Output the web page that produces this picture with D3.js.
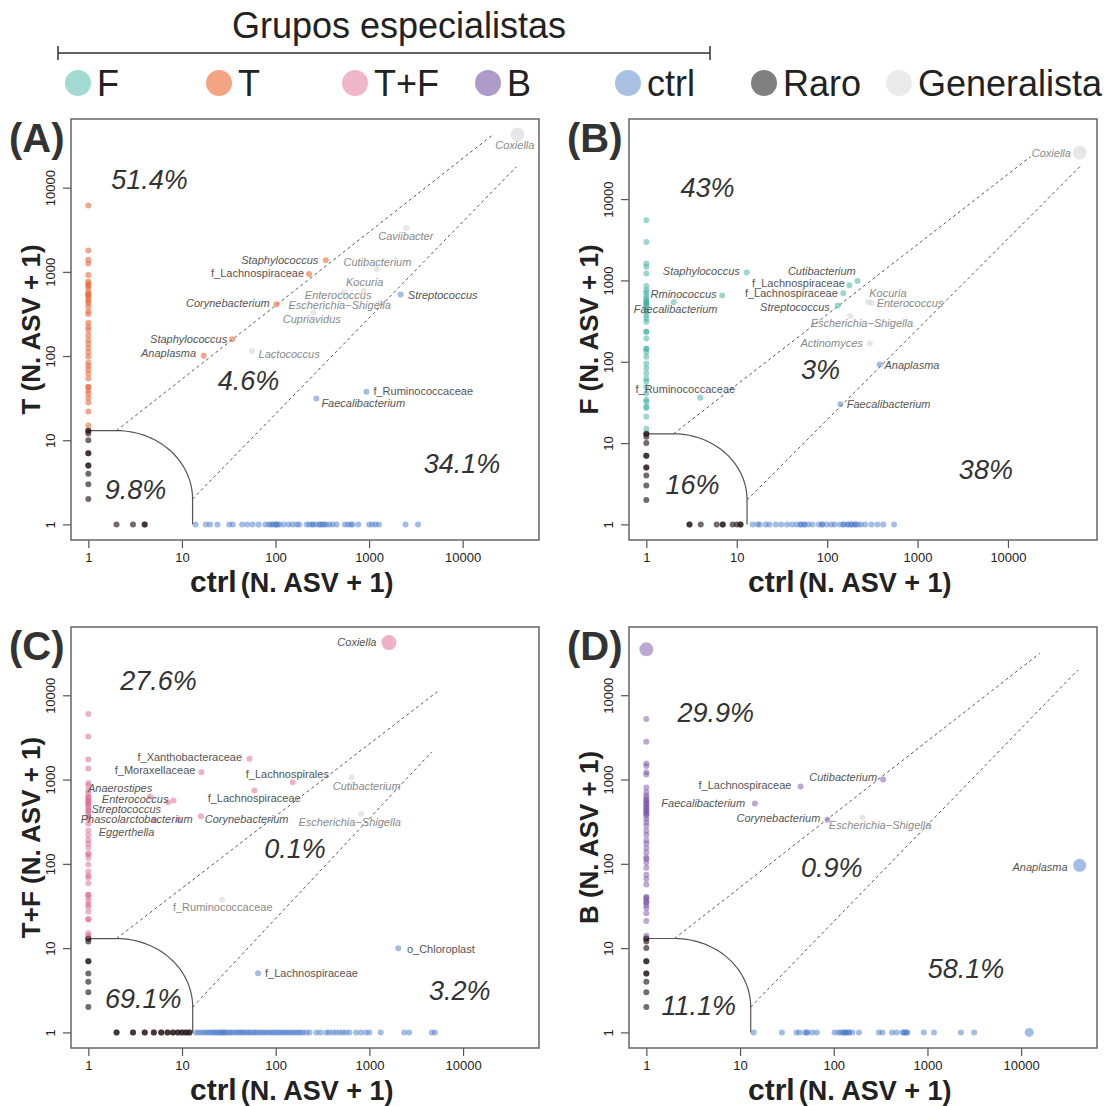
<!DOCTYPE html>
<meta charset="utf-8">
<script src="https://d3js.org/d3.v7.min.js"></script>
<style>
  body { margin: 0; background: #fff; }
  text { font-family: "Liberation Sans", Arial, Helvetica, sans-serif; }
</style>
<div id="my_dataviz"></div>
<script>

// ---------------- data (N. ASV + 1) ----------------
var legendKeys = ["F", "T", "T+F", "B", "ctrl", "Raro", "Generalista"];
var tickValues = [1, 10, 100, 1000, 10000];

// (A) T vs ctrl
var vertA = [6150, 1790, 1390, 1260, 920, 767, 720, 700, 668, 611, 557, 540, 532, 508, 470, 450, 424, 386, 337, 316, 249, 223, 204, 178, 155, 139, 124, 110, 98, 83, 76, 69, 62, 54, 43, 43, 39, 36, 32, 28, 22, 15];
var horizA = [14, 18, 20, 24, 32, 35, 44, 50, 57, 66, 78, 85, 90, 94, 100, 102, 105, 110, 122, 138, 152, 169, 180, 215, 230, 250, 250, 272, 295, 300, 319, 330, 346, 375, 406, 450, 550, 594, 638, 665, 767, 1000, 1084, 1175, 1276, 2450, 3330];
var rareVertA = [13, 13, 12, 10, 7, 7, 5, 5, 4, 3, 2];
var rareHorizA = [2, 3, 4, 4];
var labeledA = [
  {n: "Coxiella", x: 38500, y: 42700, g: "gen", lx: 36100, ly: 31600, s: 7},
  {n: "Caviibacter", x: 2500, y: 3310, g: "gen", lx: 2470, ly: 2690},
  {n: "Staphylococcus", x: 344, y: 1378, g: "T", lx: 111, ly: 1390},
  {n: "Cutibacterium", x: 1210, y: 1077, g: "gen", lx: 1228, ly: 1315},
  {n: "f_Lachnospiraceae", x: 228, y: 946, g: "T", lx: 64.3, ly: 966},
  {n: "Kocuria", x: 877, y: 594, g: "gen", lx: 896, ly: 746},
  {n: "Enterococcus", x: 542, y: 573, g: "gen", lx: 467, ly: 528},
  {n: "Streptococcus", x: 2175, y: 537, g: "ctrl", lx: 6120, ly: 532},
  {n: "Corynebacterium", x: 102.5, y: 412, g: "T", lx: 31, ly: 424},
  {n: "Escherichia\u2212Shigella", x: 1277, y: 427, g: "gen", lx: 484, ly: 397},
  {n: "Cupriavidus", x: 253, y: 328, g: "gen", lx: 244, ly: 273},
  {n: "Staphylococcus", x: 34.4, y: 158, g: "T", lx: 11.8, ly: 159},
  {n: "Anaplasma", x: 17.1, y: 101, g: "T", lx: 7.2, ly: 109},
  {n: "Lactococcus", x: 56.1, y: 115, g: "gen", lx: 140, ly: 106},
  {n: "f_Ruminococcaceae", x: 938, y: 37.6, g: "ctrl", lx: 3790, ly: 38.3},
  {n: "Faecalibacterium", x: 273, y: 31.4, g: "ctrl", lx: 867, ly: 27.3}
];
var pctA = [["51.4%", 4.5, 12400], ["4.6%", 51.6, 50.8], ["9.8%", 3.2, 2.6], ["34.1%", 9860, 5.3]];
var guideA = {upper: [20800, 42200], lower: [37500, 17700]};

// (B) F vs ctrl
var vertB = [5500, 2970, 1610, 1470, 1220, 855, 756, 705, 643, 600, 560, 548, 520, 500, 480, 440, 410, 373, 340, 310, 233, 233, 193, 145, 145, 132, 115, 95, 83, 72, 62, 57, 49, 41, 34, 32, 28, 27, 21, 15];
var horizB = [15, 17, 18, 21, 23, 27, 31, 36, 41, 46, 51, 51, 56, 56, 62, 69, 81, 88, 88, 99, 111, 121, 139, 152, 152, 170, 170, 186, 186, 203, 203, 218, 235, 263, 309, 360, 418, 550];
var rareVertB = [13, 13, 12, 10, 7, 7, 5, 5, 4, 3, 2];
var rareHorizB = [3, 3, 4, 6, 7, 7, 9, 10, 11, 11];
var labeledB = [
  {n: "Coxiella", x: 62100, y: 37200, g: "gen", lx: 30200, ly: 37200, s: 7},
  {n: "Staphylococcus", x: 12.9, y: 1250, g: "F", lx: 4.06, ly: 1298},
  {n: "Rminococcus", x: 6.9, y: 653, g: "F", lx: 2.58, ly: 677},
  {n: "Faecalibacterium", x: 2.01, y: 540, g: "F", lx: 2.11, ly: 446},
  {n: "Cutibacterium", x: 217, y: 986, g: "F", lx: 87.4, ly: 1310},
  {n: "f_Lachnospiraceae", x: 176, y: 873, g: "F", lx: 48.2, ly: 915},
  {n: "f_Lachnospiraceae", x: 151, y: 697, g: "F", lx: 40.2, ly: 690},
  {n: "Streptococcus", x: 131, y: 492, g: "F", lx: 44, ly: 465},
  {n: "Kocuria", x: 284, y: 544, g: "gen", lx: 470, ly: 690},
  {n: "Enterococcus", x: 310, y: 529, g: "gen", lx: 824, ly: 520},
  {n: "Escherichia\u2212Shigella", x: 181, y: 366, g: "gen", lx: 242, ly: 296},
  {n: "Actinomyces", x: 297, y: 168, g: "gen", lx: 112, ly: 168},
  {n: "Anaplasma", x: 381, y: 92.7, g: "ctrl", lx: 867, ly: 90.8},
  {n: "f_Ruminococcaceae", x: 3.95, y: 36, g: "F", lx: 2.7, ly: 45.7},
  {n: "Faecalibacterium", x: 140, y: 30.1, g: "ctrl", lx: 479, ly: 30.1}
];
var pctB = [["43%", 4.76, 13960], ["3%", 84.5, 80.4], ["16%", 3.25, 3.13], ["38%", 5700, 4.66]];
var guideB = {upper: [17800, 33300], lower: [62500, 25100]};

// (C) T+F vs ctrl
var vertC = [6000, 3240, 1730, 1350, 913, 850, 740, 690, 617, 617, 563, 563, 525, 525, 492, 462, 428, 428, 391, 364, 341, 299, 248, 217, 190, 173, 155, 133, 129, 117, 98, 81, 72, 69, 59, 43, 43, 40, 36, 33, 31, 27, 22, 22, 15, 14];
var horizC = [14, 15, 16, 17, 18, 19, 20, 21, 22, 23, 24, 25, 26, 27, 28, 29, 30, 32, 33, 35, 37, 39, 41, 43, 45, 47, 50, 52, 55, 58, 61, 64, 68, 72, 76, 80, 85, 90, 95, 100, 106, 112, 118, 125, 132, 140, 148, 156, 165, 175, 185, 196, 212, 230, 271, 300, 346, 370, 407, 440, 480, 520, 560, 612, 720, 815, 922, 1000, 1320, 2350, 2660, 4640, 5020];
var rareVertC = [13, 13, 12, 7, 7, 5, 4, 3, 2];
var rareHorizC = [2, 2, 3, 3, 4, 4, 5, 5, 6, 6, 7, 7, 8, 8, 9, 9, 10, 10, 11, 11, 12, 12];
var labeledC = [
  {n: "Coxiella", x: 1617, y: 42200, g: "TF", lx: 736, ly: 42200, s: 7.5},
  {n: "f_Xanthobacteraceae", x: 52.4, y: 1766, g: "TF", lx: 12.1, ly: 1845},
  {n: "f_Moraxellaceae", x: 16.1, y: 1224, g: "TF", lx: 5.16, ly: 1283},
  {n: "f_Lachnospirales", x: 152, y: 931, g: "TF", lx: 133, ly: 1172},
  {n: "Cutibacterium", x: 645, y: 1068, g: "gen", lx: 936, ly: 835},
  {n: "f_Lachnospiraceae", x: 59.2, y: 743, g: "TF", lx: 58.9, ly: 608},
  {n: "Anaerostipes", x: 4.57, y: 631, g: "TF", lx: 2.18, ly: 800},
  {n: "Enterococcus", x: 8.12, y: 565, g: "TF", lx: 3.16, ly: 591},
  {n: "Streptococcus", x: 7.1, y: 540, g: "TF", lx: 2.54, ly: 445},
  {n: "Phascolarctobacterium", x: 9.27, y: 333, g: "TF", lx: 3.28, ly: 338},
  {n: "Eggerthella", x: 5.02, y: 333, g: "TF", lx: 2.56, ly: 240},
  {n: "Corynebacterium", x: 15.9, y: 368, g: "TF", lx: 48.9, ly: 342},
  {n: "Escherichia\u2212Shigella", x: 816, y: 393, g: "gen", lx: 617, ly: 312},
  {n: "f_Ruminococcaceae", x: 26.8, y: 37.4, g: "gen", lx: 27.2, ly: 30.5},
  {n: "o_Chloroplast", x: 2035, y: 10, g: "ctrl", lx: 5790, ly: 9.8},
  {n: "f_Lachnospiraceae", x: 64.8, y: 5.02, g: "ctrl", lx: 241, ly: 5.02}
];
var pctC = [["27.6%", 5.62, 15000], ["0.1%", 161, 152], ["69.1%", 3.85, 2.51], ["3.2%", 9220, 3.13]];
var guideC = {upper: [5280, 11000], lower: [4630, 2130]};

// (D) B vs ctrl
var vertD = [5230, 2810, 1550, 1450, 1217, 1146, 805, 707, 647, 608, 562, 562, 520, 520, 490, 460, 460, 426, 426, 395, 395, 372, 340, 311, 283, 246, 221, 190, 174, 154, 136, 119, 114, 104, 90, 74, 66, 57, 40, 40, 38, 35, 35, 32, 30, 26, 21, 14];
var horizD = [14, 28, 40, 43, 49, 52, 52, 59, 66, 102, 112, 119, 127, 127, 135, 135, 145, 145, 158, 186, 303, 331, 418, 467, 540, 569, 569, 605, 605, 915, 1175, 2275, 3150];
var rareVertD = [13, 13, 12, 10, 7, 7, 5, 5, 4, 3, 2];
var rareHorizD = [];
var labeledD = [
  {n: "", x: 1, y: 35000, g: "B", s: 7},
  {n: "f_Lachnospiraceae", x: 44.3, y: 828, g: "B", lx: 11.3, ly: 867},
  {n: "Cutibacterium", x: 336, y: 1003, g: "B", lx: 126, ly: 1059},
  {n: "Faecalibacterium", x: 14.4, y: 520, g: "B", lx: 4.05, ly: 526},
  {n: "Corynebacterium", x: 85.7, y: 333, g: "B", lx: 25.7, ly: 345},
  {n: "Escherichia\u2212Shigella", x: 202, y: 355, g: "gen", lx: 312, ly: 290},
  {n: "Anaplasma", x: 42100, y: 96, g: "ctrl", lx: 15900, ly: 92, s: 6.5},
  {n: "", x: 12200, y: 1, g: "ctrl", s: 4.5}
];
var pctD = [["29.9%", 5.5, 6200], ["0.9%", 95, 89.6], ["11.1%", 3.63, 2.06], ["58.1%", 2580, 5.66]];
var guideD = {upper: [15800, 31400], lower: [40300, 19900]};

// ---------------- styles / layout ----------------
var pointColor = {T: "#EC6A3E", F: "#38ADA0", TF: "#E0648E", B: "#7A52A8", ctrl: "#4A7CCB", raro: "#2A1A1A", gen: "#D0D0D0"};
var pointAlpha = {T: 0.6, F: 0.5, TF: 0.5, B: 0.5, ctrl: 0.5, raro: 0.65, gen: 0.5};
var legendFill = ["#A3DAD2", "#F4A383", "#F0B6CA", "#AE9BCA", "#A8C1E2", "#808080", "#EBEBEB"];

var W = 468, H = 421;
var panels = [
  {id: "A", yName: "T", yGroup: "T", left: 71, top: 119, vert: vertA, horiz: horizA, rareV: rareVertA, rareH: rareHorizA, labeled: labeledA, pct: pctA, guide: guideA},
  {id: "B", yName: "F", yGroup: "F", left: 629, top: 119, vert: vertB, horiz: horizB, rareV: rareVertB, rareH: rareHorizB, labeled: labeledB, pct: pctB, guide: guideB},
  {id: "C", yName: "T+F", yGroup: "TF", left: 71, top: 627, vert: vertC, horiz: horizC, rareV: rareVertC, rareH: rareHorizC, labeled: labeledC, pct: pctC, guide: guideC},
  {id: "D", yName: "B", yGroup: "B", left: 629, top: 627, vert: vertD, horiz: horizD, rareV: rareVertD, rareH: rareHorizD, labeled: labeledD, pct: pctD, guide: guideD}
];

var svg = d3.select("#my_dataviz")
  .append("svg")
    .attr("width", 1112)
    .attr("height", 1106);

// ---------------- legend ----------------
svg.append("text")
  .attr("x", 399).attr("y", 38)
  .attr("text-anchor", "middle")
  .style("font-size", "36px").style("fill", "#222")
  .text("Grupos especialistas");

svg.append("path")
  .attr("d", "M58,46V60M58,53H710M710,46V60")
  .attr("stroke", "#333").attr("stroke-width", 1.5).attr("fill", "none");

var legendX = [78, 219, 355, 488, 628, 764, 899];
var leg = svg.selectAll(".leg")
  .data(legendKeys)
  .enter().append("g")
    .attr("transform", function(d, i) { return "translate(" + legendX[i] + ",83)"; });
leg.append("circle")
  .attr("r", 13)
  .attr("fill", function(d, i) { return legendFill[i]; });
leg.append("text")
  .attr("x", 19).attr("y", 13)
  .style("font-size", "36px").style("fill", "#222")
  .text(function(d) { return d; });

// ---------------- panels ----------------
panels.forEach(function(p) {
  var g = svg.append("g").attr("transform", "translate(" + p.left + "," + p.top + ")");

  // shared limits for both axes: 1 .. max of everything, 4% padding in log space
  var all = [].concat(p.vert, p.horiz, p.rareV, p.rareH,
    p.labeled.map(function(d) { return d.x; }), p.labeled.map(function(d) { return d.y; }));
  var L = Math.log10(d3.max(all));
  var lim = [Math.pow(10, -0.04 * L), Math.pow(10, 1.04 * L)];

  var x = d3.scaleLog().domain(lim).range([0, W]);
  var y = d3.scaleLog().domain(lim).range([H, 0]);

  // axes
  var xAxis = g.append("g")
    .attr("transform", "translate(0," + H + ")")
    .call(d3.axisBottom(x).tickValues(tickValues).tickFormat(d3.format("d")).tickSize(8).tickPadding(5));
  var yAxis = g.append("g")
    .call(d3.axisLeft(y).tickValues(tickValues).tickFormat(d3.format("d")).tickSize(8));
  [xAxis, yAxis].forEach(function(a) {
    a.select(".domain").remove();
    a.selectAll(".tick line").attr("stroke", "#555").attr("stroke-width", 1.2);
    a.selectAll(".tick text").style("font-size", "13px").style("fill", "#222")
      .style("font-family", "'Liberation Sans', Arial, sans-serif");
  });
  yAxis.selectAll(".tick text")
    .attr("transform", "rotate(-90)")
    .attr("x", 0).attr("y", -16).attr("dy", null)
    .style("text-anchor", "middle");

  // box
  g.append("rect")
    .attr("width", W).attr("height", H)
    .attr("fill", "none").attr("stroke", "#666").attr("stroke-width", 1.5);

  // rare / specialist boundary: (1,13)-(2,13), quarter circle in log space, (13,2)-(13,1)
  var c = Math.log10(2), r = Math.log10(13) - Math.log10(2);
  var arcPts = [[1, 13]];
  d3.range(0, 91, 3).forEach(function(a) {
    var t = (90 - a) * Math.PI / 180;
    arcPts.push([Math.pow(10, c + r * Math.cos(t)), Math.pow(10, c + r * Math.sin(t))]);
  });
  arcPts.push([13, 1]);
  var line = d3.line().x(function(d) { return x(d[0]); }).y(function(d) { return y(d[1]); });
  g.append("path")
    .attr("d", line(arcPts))
    .attr("fill", "none").attr("stroke", "#555").attr("stroke-width", 1.2);

  // dashed guides
  g.append("path").attr("d", line([[2, 13], p.guide.upper]))
    .attr("fill", "none").attr("stroke", "#555").attr("stroke-width", 1).attr("stroke-dasharray", "3,3");
  g.append("path").attr("d", line([[13, 2], p.guide.lower]))
    .attr("fill", "none").attr("stroke", "#555").attr("stroke-width", 1).attr("stroke-dasharray", "3,3");

  // points
  var pts = [];
  p.rareV.forEach(function(v) { pts.push({x: 1, y: v, g: "raro"}); });
  p.rareH.forEach(function(v) { pts.push({x: v, y: 1, g: "raro"}); });
  p.vert.forEach(function(v) { pts.push({x: 1, y: v, g: p.yGroup}); });
  p.horiz.forEach(function(v) { pts.push({x: v, y: 1, g: "ctrl"}); });
  p.labeled.forEach(function(d) { pts.push(d); });

  g.append("g").selectAll("circle")
    .data(pts)
    .enter().append("circle")
      .attr("cx", function(d) { return x(d.x); })
      .attr("cy", function(d) { return y(d.y); })
      .attr("r", function(d) { return d.s || 3; })
      .attr("fill", function(d) { return pointColor[d.g]; })
      .attr("fill-opacity", function(d) { return pointAlpha[d.g]; });

  // point labels
  g.append("g").selectAll("text")
    .data(p.labeled.filter(function(d) { return d.n; }))
    .enter().append("text")
      .attr("x", function(d) { return x(d.lx); })
      .attr("y", function(d) { return y(d.ly); })
      .attr("dy", "0.35em")
      .attr("text-anchor", "middle")
      .style("font-size", "11px")
      .style("font-style", function(d) { return /^[fo]_/.test(d.n) ? "normal" : "italic"; })
      .style("fill", function(d) { return d.g === "gen" ? "#8a8a8a" : "#555"; })
      .text(function(d) { return d.n; });

  // percentages
  g.append("g").selectAll("text")
    .data(p.pct)
    .enter().append("text")
      .attr("x", function(d) { return x(d[1]); })
      .attr("y", function(d) { return y(d[2]); })
      .attr("dy", "0.35em")
      .attr("text-anchor", "middle")
      .style("font-size", "27px").style("font-style", "italic").style("fill", "#333")
      .text(function(d) { return d[0]; });

  // panel letter
  g.append("text")
    .attr("x", -62).attr("y", 33)
    .style("font-size", "40px").style("font-weight", "bold").style("fill", "#333")
    .text("(" + p.id + ")");

  // axis titles
  var xt = g.append("text")
    .attr("x", 119).attr("y", H + 52)
    .style("font-weight", "bold").style("fill", "#222");
  xt.append("tspan").style("font-size", "30px").text("ctrl");
  xt.append("tspan").attr("dx", 4).style("font-size", "27px").text("(N. ASV + 1)");

  g.append("text")
    .attr("transform", "translate(-31," + (H / 2) + ") rotate(-90)")
    .attr("text-anchor", "middle")
    .style("font-size", "26px").style("font-weight", "bold").style("fill", "#222")
    .text(p.yName + " (N. ASV + 1)");
});

</script>
